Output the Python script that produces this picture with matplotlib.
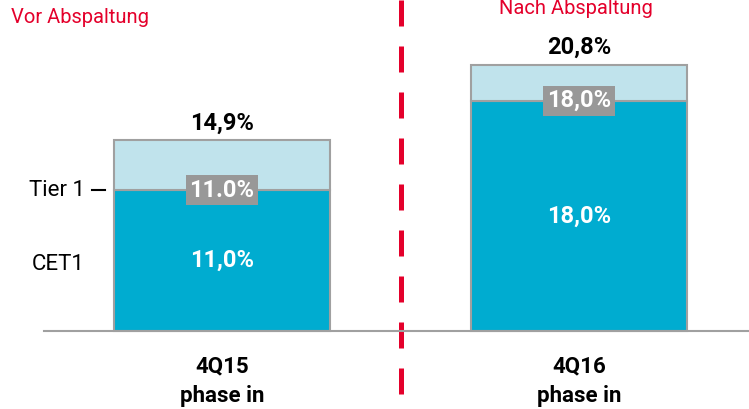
import matplotlib
matplotlib.use("Agg")
import matplotlib.pyplot as plt

plt.rcParams['font.family'] = ['Roboto', 'DejaVu Sans']

quarters = ['4Q15', '4Q16']
phase = ['phase in', 'phase in']
cet1 = [11.0, 18.0]
tier1 = [14.9, 20.8]
cet1_labels = ['11,0%', '18,0%']
tier1_box_labels = ['11.0%', '18,0%']
total_labels = ['14,9%', '20,8%']
sections = ['Vor Abspaltung', 'Nach Abspaltung']

dark = '#00acd0'
light = '#c0e3ec'
edge = '#a0a0a0'
red = '#e4002b'

fig = plt.figure(figsize=(7.49, 4.09), dpi=100)
ax = fig.add_axes([0, 0, 1, 1])
ax.set_xlim(-0.622, 1.476)
ax.set_ylim(-6.09, 25.86)
ax.axis('off')

x = [0, 1]
w = 0.605
upper = [t - c for t, c in zip(tier1, cet1)]
ax.bar(x, cet1, width=w, color=dark, edgecolor=edge, linewidth=1.5, zorder=2)
ax.bar(x, upper, bottom=cet1, width=w, color=light, edgecolor=edge, linewidth=1.5, zorder=2)

# baseline
ax.plot([-0.5, 1.476], [0, 0], color=edge, lw=1.5, zorder=3)

for i in range(len(x)):
    ax.text(x[i], tier1[i] + 0.85, total_labels[i], ha='center', va='baseline',
            fontsize=17, fontweight='bold', color='black')
    ax.text(x[i], cet1[i] / 2, cet1_labels[i], ha='center', va='center',
            fontsize=17, fontweight='bold', color='white', zorder=4)
    ax.text(x[i], cet1[i], tier1_box_labels[i], ha='center', va='center',
            fontsize=17, fontweight='bold', color='white', zorder=4,
            bbox=dict(boxstyle='square,pad=0.15', fc='#989898', ec='none'))
    ax.text(x[i], -2.73, quarters[i], ha='center', va='center',
            fontsize=16, fontweight='bold', color='black')
    ax.text(x[i], -5.07, phase[i], ha='center', va='center',
            fontsize=16, fontweight='bold', color='black')

# left hand labels
ax.text(-0.384, cet1[0], 'Tier 1', ha='right', va='center', fontsize=16, color='black')
ax.plot([-0.364, -0.328], [cet1[0], cet1[0]], color='black', lw=1.5)
ax.text(-0.384, 5.16, 'CET1', ha='right', va='center', fontsize=16, color='black')

# divider, drawn from the top down
ax.plot([0.5, 0.5], [25.86, -6.09], color=red, lw=3.6, dashes=(5.2, 4.0), zorder=1)

ax.text(-0.59, 24.46, sections[0], ha='left', va='center', fontsize=14.5, color=red)
ax.text(0.992, 25.16, sections[1], ha='center', va='center', fontsize=14.5, color=red)

fig.savefig('out.png', dpi=100)
